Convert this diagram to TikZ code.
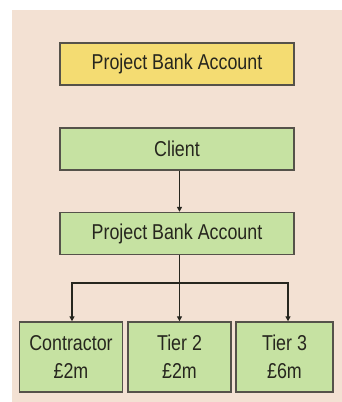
\documentclass[tikz,border=0pt]{standalone}
\usepackage{fontspec}
\setmainfont{Liberation Sans}[FakeStretch=0.83]
\usetikzlibrary{arrows.meta}
\definecolor{bgbeige}{HTML}{F3E1D3}
\definecolor{boxyellow}{HTML}{F4DC72}
\definecolor{boxgreen}{HTML}{C6E2A2}
\definecolor{edgegray}{HTML}{55524A}
\definecolor{txt}{HTML}{26261E}
\tikzset{
  blk/.style={draw=edgegray, line width=1.4pt, text=txt, inner sep=0pt,
    font=\fontsize{21.5}{28}\selectfont, align=center},
  wide/.style={blk, minimum width=234pt, minimum height=42pt},
  small/.style={blk, minimum width=103pt, minimum height=70pt},
  link/.style={draw=txt, line width=1.6pt},
  arr/.style={link, -{Triangle[length=5pt,width=5pt]}}
}
\begin{document}
\begin{tikzpicture}[x=1pt,y=-1pt]
\useasboundingbox (0,0) rectangle (342,402);
\fill[bgbeige] (12,10) rectangle (342,402);
\node[wide, fill=boxyellow] (pba0) at (177,64) {Project Bank Account};
\node[wide, fill=boxgreen] (client) at (177,149) {Client};
\node[wide, fill=boxgreen] (pba) at (177,233.5) {Project Bank Account};
\node[small, fill=boxgreen] (con) at (71,357) {Contractor\\£2m};
\node[small, fill=boxgreen] (t2) at (179.5,357) {Tier 2\\£2m};
\node[small, fill=boxgreen, minimum width=97pt] (t3) at (284.5,357) {Tier 3\\£6m};
\coordinate (split) at (179.5,283);
\draw[arr] (client.south -| split) -- (pba.north -| split);
\draw[link] (pba.south -| split) -- (split);
\draw[arr] (split) -- (t2.north);
\draw[arr] (split) -| ([xshift=1pt]con.north);
\draw[arr] (split) -| ([xshift=3.5pt]t3.north);
\end{tikzpicture}
\end{document}
